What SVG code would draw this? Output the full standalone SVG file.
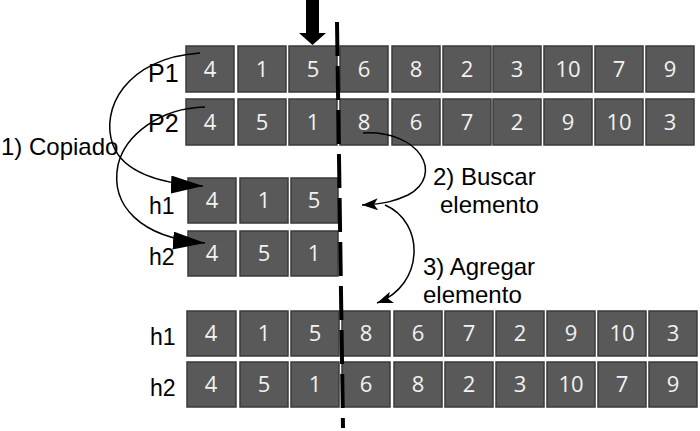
<svg xmlns="http://www.w3.org/2000/svg" width="700" height="431" viewBox="0 0 700 431">
<style>
.b rect{fill:#595959;stroke:#3a3a3a;stroke-width:1.5}
.b text{font-family:"Open Sans","Liberation Sans",sans-serif;font-size:22px;fill:#f2f2f2;text-anchor:middle}
.b text.n{font-family:"Liberation Sans",Arial,sans-serif;fill:#000;text-anchor:start}
.lbl{font-family:"Liberation Sans",Arial,sans-serif;font-size:24px;fill:#000}
.c path{fill:none;stroke:#000;stroke-width:1.5}
</style>
<defs>
<marker id="big" viewBox="0 0 32 18" refX="32" refY="9" markerWidth="32" markerHeight="18" markerUnits="userSpaceOnUse" orient="auto"><path d="M0,0 L32,9 L0,18 Z" fill="#000"/></marker>
<marker id="sm" viewBox="0 0 16 12" refX="16" refY="6" markerWidth="16" markerHeight="12" markerUnits="userSpaceOnUse" orient="auto"><path d="M0,0 L16,6 L0,12 L4,6 Z" fill="#000"/></marker>
</defs>
<rect width="700" height="431" fill="#fff"/>

<g id="P1" class="b">
<text class="n" x="148" y="82" style="font-size:25px">P1</text>
<rect x="186" y="46" width="48" height="46"/><text x="210" y="77">4</text>
<rect x="238" y="46" width="48" height="46"/><text x="262" y="77">1</text>
<rect x="289" y="46" width="48" height="46"/><text x="313" y="77">5</text>
<rect x="340" y="46" width="48" height="46"/><text x="364" y="77">6</text>
<rect x="392" y="46" width="48" height="46"/><text x="416" y="77">8</text>
<rect x="443" y="46" width="48" height="46"/><text x="467" y="77">2</text>
<rect x="493" y="46" width="48" height="46"/><text x="517" y="77">3</text>
<rect x="544" y="46" width="48" height="46"/><text x="568" y="77">10</text>
<rect x="595" y="46" width="48" height="46"/><text x="619" y="77">7</text>
<rect x="646" y="46" width="48" height="46"/><text x="670" y="77">9</text>
</g>

<g id="P2" class="b">
<text class="n" x="148" y="132" style="font-size:25px">P2</text>
<rect x="186" y="99" width="48" height="46"/><text x="210" y="130">4</text>
<rect x="238" y="99" width="48" height="46"/><text x="262" y="130">5</text>
<rect x="289" y="99" width="48" height="46"/><text x="313" y="130">1</text>
<rect x="340" y="99" width="48" height="46"/><text x="364" y="130">8</text>
<rect x="392" y="99" width="48" height="46"/><text x="416" y="130">6</text>
<rect x="443" y="99" width="48" height="46"/><text x="467" y="130">7</text>
<rect x="493" y="99" width="48" height="46"/><text x="517" y="130">2</text>
<rect x="544" y="99" width="48" height="46"/><text x="568" y="130">9</text>
<rect x="595" y="99" width="48" height="46"/><text x="619" y="130">10</text>
<rect x="646" y="99" width="48" height="46"/><text x="670" y="130">3</text>
</g>

<g id="h1a" class="b">
<text class="n" x="149" y="214" style="font-size:23px">h1</text>
<rect x="188" y="178" width="48" height="45"/><text x="212" y="208">4</text>
<rect x="240" y="178" width="48" height="45"/><text x="264" y="208">1</text>
<rect x="291" y="178" width="47" height="45"/><text x="314" y="208">5</text>
</g>

<g id="h2a" class="b">
<text class="n" x="149" y="265" style="font-size:23px">h2</text>
<rect x="188" y="231" width="48" height="45"/><text x="212" y="261">4</text>
<rect x="240" y="231" width="48" height="45"/><text x="264" y="261">5</text>
<rect x="291" y="231" width="47" height="45"/><text x="314" y="261">1</text>
</g>

<g id="h1b" class="b">
<text class="n" x="150" y="345" style="font-size:23px">h1</text>
<rect x="187" y="311" width="49" height="45"/><text x="211" y="341">4</text>
<rect x="240" y="311" width="48" height="45"/><text x="264" y="341">1</text>
<rect x="291" y="311" width="48" height="45"/><text x="315" y="341">5</text>
<rect x="342" y="311" width="48" height="45"/><text x="366" y="341">8</text>
<rect x="394" y="311" width="48" height="45"/><text x="418" y="341">6</text>
<rect x="445" y="311" width="48" height="45"/><text x="469" y="341">7</text>
<rect x="496" y="311" width="48" height="45"/><text x="520" y="341">2</text>
<rect x="547" y="311" width="48" height="45"/><text x="571" y="341">9</text>
<rect x="598" y="311" width="48" height="45"/><text x="622" y="341">10</text>
<rect x="649" y="311" width="48" height="45"/><text x="673" y="341">3</text>
</g>

<g id="h2b" class="b">
<text class="n" x="150" y="396" style="font-size:23px">h2</text>
<rect x="187" y="362" width="49" height="45"/><text x="211" y="392">4</text>
<rect x="240" y="362" width="48" height="45"/><text x="264" y="392">5</text>
<rect x="291" y="362" width="48" height="45"/><text x="315" y="392">1</text>
<rect x="342" y="362" width="48" height="45"/><text x="366" y="392">6</text>
<rect x="394" y="362" width="48" height="45"/><text x="418" y="392">8</text>
<rect x="445" y="362" width="48" height="45"/><text x="469" y="392">2</text>
<rect x="496" y="362" width="48" height="45"/><text x="520" y="392">3</text>
<rect x="547" y="362" width="48" height="45"/><text x="571" y="392">10</text>
<rect x="598" y="362" width="48" height="45"/><text x="622" y="392">7</text>
<rect x="649" y="362" width="48" height="45"/><text x="673" y="392">9</text>
</g>

<g id="labels">
<text class="lbl" x="1" y="155">1) Copiado</text>
<text class="lbl" x="433" y="185">2) Buscar</text>
<text class="lbl" x="440" y="213">elemento</text>
<text class="lbl" x="423" y="275">3) Agregar</text>
<text class="lbl" x="423" y="303">elemento</text>
</g>

<g id="cut">
<polygon points="306,0 319,0 319,33 326,33 312.5,45 299,33 306,33" fill="#000"/>
<line x1="337" y1="22" x2="343" y2="428" stroke="#000" stroke-width="4" stroke-dasharray="34 10"/>
</g>

<g id="connectors" class="c">
<path d="M200,53 C125,58 100,110 113,145 C123,172 160,184 203,186" marker-end="url(#big)"/>
<path d="M205,107 C160,108 125,135 118,165 C110,205 140,238 205,243" marker-end="url(#big)"/>
<path d="M363,133 C420,130 445,175 408,195 C395,201 385,204 362,205" marker-end="url(#sm)"/>
<path d="M385,205 C425,222 425,285 377,303" marker-end="url(#sm)"/>
</g>
</svg>
